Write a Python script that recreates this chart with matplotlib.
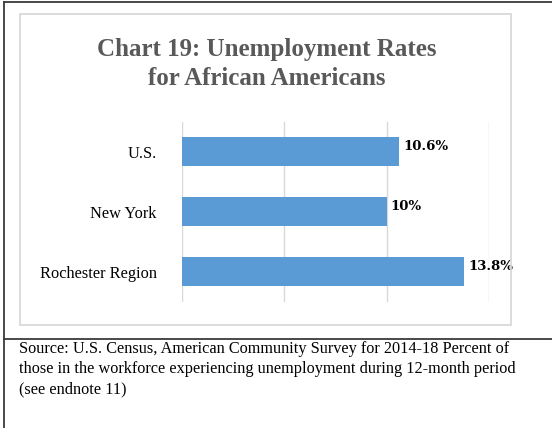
import matplotlib
matplotlib.use("Agg")
import matplotlib.pyplot as plt
from matplotlib.lines import Line2D
from matplotlib.patches import Rectangle

categories = ["U.S.", "New York", "Rochester Region"]
values = [10.6, 10.0, 13.8]
value_labels = ["10.6%", "10%", "13.8%"]
title = "Chart 19: Unemployment Rates\nfor African Americans"
source = ("Source: U.S. Census, American Community Survey for 2014-18 Percent of\n"
          "those in the workforce experiencing unemployment during 12-month period\n"
          "(see endnote 11)")

W, H = 552, 428
fig = plt.figure(figsize=(W / 100, H / 100), dpi=100)
fig.patch.set_facecolor("white")

def fx(px):
    return px / W

def fy(py):
    return 1 - py / H

# outer frame lines
for xs, ys in [([4, 4], [2, 428]), ([4, 552], [2, 2]), ([4, 552], [339, 339])]:
    fig.add_artist(Line2D([fx(x) for x in xs], [fy(y) for y in ys],
                          color="#3a3a3a", lw=1.3, transform=fig.transFigure))

# inner chart box
fig.add_artist(Rectangle((fx(20), fy(325)), fx(511) - fx(20), fy(14) - fy(325),
                         transform=fig.transFigure, fill=False,
                         edgecolor="#d9d9d9", lw=1.3))

ax = fig.add_axes([fx(182), fy(301.7), fx(489) - fx(182), fy(121.7) - fy(301.7)])
ypos = list(range(len(categories)))
bars = ax.barh(ypos, values, height=0.49, color="#5B9BD5", zorder=3)
ax.set_xlim(0, 15)
ax.set_ylim(len(categories) - 0.5, -0.5)
ax.set_xticks([0, 5, 10, 15])
ax.set_xticklabels([])
ax.tick_params(axis="x", length=0)
ax.xaxis.grid(True, color="#d9d9d9", lw=1.0, zorder=0)
ax.set_yticks(ypos)
ax.set_yticklabels(categories, family="Liberation Serif", fontsize=11.8, color="#000000")
ax.tick_params(axis="y", length=0, pad=18)
for s in ax.spines.values():
    s.set_visible(False)
ax.set_facecolor("none")

for b, lab in zip(bars, value_labels):
    ax.annotate(lab, (b.get_width(), b.get_y() + b.get_height() / 2),
                xytext=(3, 4), textcoords="offset points", ha="left", va="center",
                family="DejaVu Serif", fontweight="bold", fontsize=9.5, color="#000000")

fig.text(fx(267), fy(64), title, ha="center", va="center", family="Liberation Serif",
         fontweight="bold", fontsize=18, color="#595959", linespacing=1.3)

fig.text(fx(19), fy(341), source, ha="left", va="top", family="Liberation Serif",
         fontsize=11.7, color="#000000", linespacing=1.33)

fig.savefig("out.png", dpi=100, facecolor="white")
